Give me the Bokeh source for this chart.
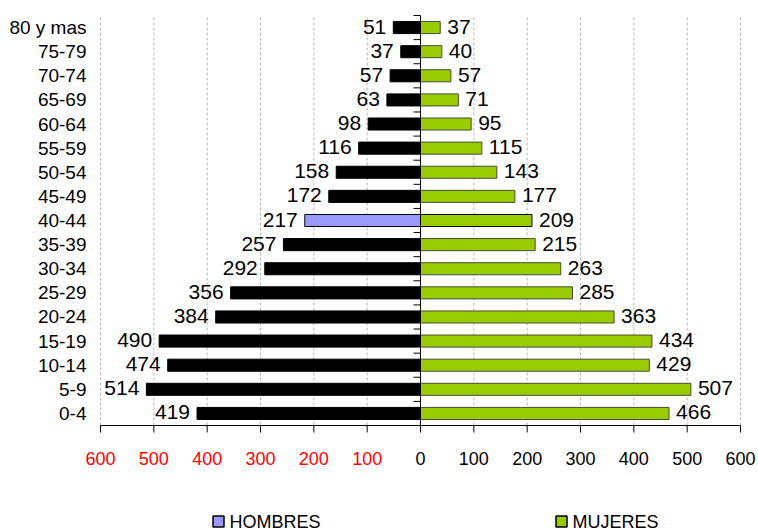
from bokeh.plotting import figure
from bokeh.models import ColumnDataSource, Range1d
from bokeh.embed import file_html
from bokeh.resources import INLINE
from bokeh.core.properties import value

# ---------------- data ----------------
age_groups = ["80 y mas", "75-79", "70-74", "65-69", "60-64", "55-59", "50-54",
              "45-49", "40-44", "35-39", "30-34", "25-29", "20-24", "15-19",
              "10-14", "5-9", "0-4"]
hombres = [51, 37, 57, 63, 98, 116, 158, 172, 217, 257, 292, 356, 384, 490, 474, 514, 419]
mujeres = [37, 40, 57, 71, 95, 115, 143, 177, 209, 215, 263, 285, 363, 434, 429, 507, 466]
highlight_group = "40-44"
x_ticks = [-600, -500, -400, -300, -200, -100, 0, 100, 200, 300, 400, 500, 600]
legend_labels = ["HOMBRES", "MUJERES"]

# ---------------- styles / layout (pixels) ----------------
FONT = "Liberation Sans"
MALE = "#000000"
MALE_HL = "#9999FF"
FEMALE = "#99CC00"
FEMALE_LINE = "#4a4a3a"
GRID = "#b8b8b8"
W, H = 758, 531
PL, PR, PT, PB = 100, 740, 15, 425        # plotting area in page pixels
LEGEND_PX = [218, 561]                    # legend square centres (px)
LEGEND_Y_PX = 521

n = len(age_groups)
ypos = [n - 1 - i for i in range(n)]

# scale: x ticks span the plotting area, rows span its height
upp = (x_ticks[-1] - x_ticks[0]) / (PR - PL)
rowpx = (PB - PT) / n
x_start = x_ticks[0] - PL * upp
x_end = x_ticks[-1] + (W - PR) * upp
y_bot = -0.5
y_top = n - 0.5
y_start = y_bot - (H - PB) / rowpx
y_end = y_top + PT / rowpx

def px_to_x(px):
    return x_start + px * upp

def px_to_y(py):
    return y_end - py / rowpx

male_fill = [MALE_HL if g == highlight_group else MALE for g in age_groups]
female_line = ["#000000" if g == highlight_group else FEMALE_LINE for g in age_groups]

src_m = ColumnDataSource(dict(y=ypos, left=[-v for v in hombres], txt=[str(v) for v in hombres],
                              fill=male_fill))
src_f = ColumnDataSource(dict(y=ypos, right=mujeres, txt=[str(v) for v in mujeres],
                              line=female_line))

p = figure(width=W, height=H, output_backend="svg", toolbar_location=None,
           x_range=Range1d(x_start, x_end), y_range=Range1d(y_start, y_end),
           x_axis_location=None, y_axis_location=None,
           min_border_left=0, min_border_right=0, min_border_top=0, min_border_bottom=0)
p.outline_line_color = None
p.grid.grid_line_color = None

# vertical dashed grid lines
grid_x = [t for t in x_ticks if t != 0]
p.segment(x0=grid_x, x1=grid_x, y0=[y_bot] * len(grid_x), y1=[y_top] * len(grid_x),
          line_color=GRID, line_width=1, line_dash="3 2")

# bars
p.hbar(y="y", left="left", right=0, height=0.5, fill_color="fill", line_color="black",
       line_width=1, source=src_m)
p.hbar(y="y", left=0, right="right", height=0.5, fill_color=FEMALE, line_color="line",
       line_width=1, source=src_f)

# centre axis with ticks at category boundaries
p.segment(x0=[0], x1=[0], y0=[y_bot], y1=[y_top], line_color="black", line_width=1)
bounds = [i - 0.5 for i in range(n + 1)]
p.segment(x0=[-7 * upp] * len(bounds), x1=[0] * len(bounds), y0=bounds, y1=bounds,
          line_color="black", line_width=1)

# category labels
p.text(x=[x_ticks[0]] * n, y=ypos, text=age_groups, x_offset=-14, text_align="right",
       text_baseline="middle", text_font=value(FONT), text_font_size="19px", text_color="black")

# value labels
p.text(x="left", y="y", text="txt", source=src_m, text_align="right", text_baseline="middle",
       x_offset=-7, y_offset=-1, text_font=value(FONT), text_font_size="21px", text_color="black")
p.text(x="right", y="y", text="txt", source=src_f, text_align="left", text_baseline="middle",
       x_offset=7, y_offset=-1, text_font=value(FONT), text_font_size="21px", text_color="black")

# bottom value axis
p.segment(x0=[x_ticks[0]], x1=[x_ticks[-1]], y0=[y_bot], y1=[y_bot], line_color="black",
          line_width=1)
p.segment(x0=x_ticks, x1=x_ticks, y0=[y_bot] * len(x_ticks),
          y1=[y_bot - 7 / rowpx] * len(x_ticks), line_color="black", line_width=1)
tick_src = ColumnDataSource(dict(x=x_ticks, y=[y_bot] * len(x_ticks),
                                 t=[str(abs(t)) for t in x_ticks],
                                 c=["red" if t < 0 else "black" for t in x_ticks]))
p.text(x="x", y="y", text="t", source=tick_src, text_color="c", text_align="center",
       text_baseline="middle", y_offset=33, text_font=value(FONT), text_font_size="18px")

# legend
leg_src = ColumnDataSource(dict(x=[px_to_x(v) for v in LEGEND_PX],
                                y=[px_to_y(LEGEND_Y_PX)] * len(LEGEND_PX),
                                t=legend_labels, c=[MALE_HL, FEMALE]))
p.scatter(x="x", y="y", source=leg_src, marker="square", size=11, fill_color="c",
          line_color="black", line_width=1.5)
p.text(x="x", y="y", text="t", source=leg_src, x_offset=11, text_align="left",
       text_baseline="middle", text_font=value(FONT), text_font_size="18px", text_color="black")

open("out.html", "w").write(file_html(p, INLINE))
